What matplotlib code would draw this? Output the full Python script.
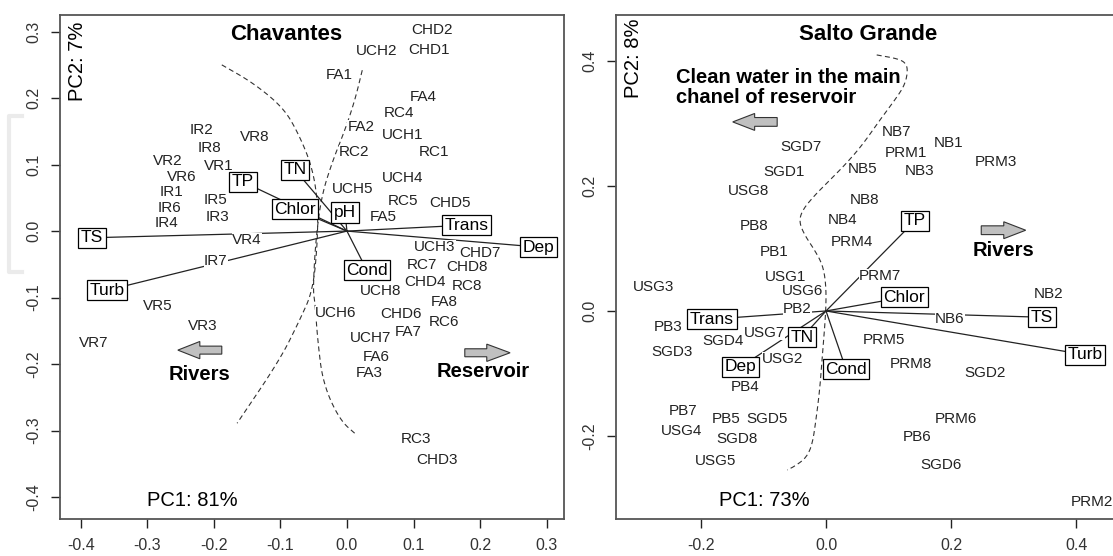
import matplotlib.pyplot as plt
from matplotlib.patches import FancyArrow
from matplotlib.lines import Line2D
import numpy as np

plt.rcParams['font.family'] = ['Liberation Sans', 'DejaVu Sans']
plt.rcParams['axes.unicode_minus'] = False

# %% Chavantes - site scores
chv_sites = ['IR1', 'IR2', 'IR3', 'IR4', 'IR5', 'IR6', 'IR7', 'IR8',
             'VR1', 'VR2', 'VR3', 'VR4', 'VR5', 'VR6', 'VR7', 'VR8',
             'CHD1', 'CHD2', 'CHD3', 'CHD4', 'CHD5', 'CHD6', 'CHD7', 'CHD8',
             'UCH1', 'UCH2', 'UCH3', 'UCH4', 'UCH5', 'UCH6', 'UCH7', 'UCH8',
             'FA1', 'FA2', 'FA3', 'FA4', 'FA5', 'FA6', 'FA7', 'FA8',
             'RC1', 'RC2', 'RC3', 'RC4', 'RC5', 'RC6', 'RC7', 'RC8']
chv_pc1 = [-0.263, -0.218, -0.195, -0.271, -0.197, -0.267, -0.197, -0.206,
           -0.192, -0.269, -0.216, -0.150, -0.284, -0.248, -0.380, -0.138,
           0.123, 0.128, 0.135, 0.117, 0.155, 0.081, 0.200, 0.180,
           0.084, 0.045, 0.132, 0.084, 0.009, -0.017, 0.036, 0.051,
           -0.011, 0.021, 0.033, 0.114, 0.054, 0.044, 0.092, 0.146,
           0.131, 0.011, 0.104, 0.078, 0.084, 0.146, 0.113, 0.180]
chv_pc2 = [0.059, 0.152, 0.021, 0.012, 0.047, 0.035, -0.045, 0.125,
           0.098, 0.105, -0.143, -0.014, -0.113, 0.081, -0.168, 0.141,
           0.272, 0.302, -0.344, -0.077, 0.042, -0.125, -0.033, -0.054,
           0.144, 0.271, -0.024, 0.080, 0.063, -0.123, -0.161, -0.090,
           0.235, 0.156, -0.214, 0.202, 0.021, -0.189, -0.152, -0.107,
           0.119, 0.119, -0.313, 0.177, 0.045, -0.137, -0.051, -0.083]

# Chavantes - variable loadings
chv_vars = ['TS', 'TP', 'TN', 'Chlor', 'pH', 'Trans', 'Dep', 'Cond', 'Turb']
chv_var_pc1 = [-0.383, -0.156, -0.078, -0.078, -0.003, 0.180, 0.287, 0.030, -0.360]
chv_var_pc2 = [-0.010, 0.074, 0.092, 0.033, 0.028, 0.009, -0.024, -0.059, -0.089]

# Chavantes - hand drawn group boundaries
chv_curve1_x = [-0.188, -0.141, -0.096, -0.074, -0.053, -0.044, -0.044, -0.051, -0.071, -0.101, -0.165]
chv_curve1_y = [0.250, 0.223, 0.186, 0.149, 0.099, 0.047, -0.014, -0.089, -0.134, -0.194, -0.289]
chv_curve2_x = [0.023, 0.012, -0.003, -0.021, -0.038, -0.047, -0.051, -0.048, -0.044, -0.036, -0.011, 0.015]
chv_curve2_y = [0.242, 0.197, 0.152, 0.107, 0.054, -0.014, -0.089, -0.108, -0.164, -0.229, -0.284, -0.307]

chv_xticks = [-0.4, -0.3, -0.2, -0.1, 0.0, 0.1, 0.2, 0.3]
chv_yticks = [-0.4, -0.3, -0.2, -0.1, 0.0, 0.1, 0.2, 0.3]

# %% Salto Grande - site scores
sg_sites = ['SGD1', 'SGD2', 'SGD3', 'SGD4', 'SGD5', 'SGD6', 'SGD7', 'SGD8',
            'USG1', 'USG2', 'USG3', 'USG4', 'USG5', 'USG6', 'USG7', 'USG8',
            'PB1', 'PB2', 'PB3', 'PB4', 'PB5', 'PB6', 'PB7', 'PB8',
            'NB1', 'NB2', 'NB3', 'NB4', 'NB5', 'NB6', 'NB7', 'NB8',
            'PRM1', 'PRM2', 'PRM3', 'PRM4', 'PRM5', 'PRM6', 'PRM7', 'PRM8']
sg_pc1 = [-0.067, 0.254, -0.246, -0.165, -0.094, 0.184, -0.040, -0.142,
          -0.065, -0.070, -0.276, -0.230, -0.177, -0.038, -0.099, -0.123,
          -0.083, -0.046, -0.252, -0.129, -0.160, 0.145, -0.228, -0.115,
          0.195, 0.355, 0.149, 0.026, 0.059, 0.198, 0.113, 0.061,
          0.128, 0.425, 0.272, 0.042, 0.093, 0.208, 0.086, 0.136]
sg_pc2 = [0.222, -0.099, -0.065, -0.048, -0.173, -0.246, 0.262, -0.204,
          0.054, -0.077, 0.038, -0.192, -0.240, 0.032, -0.035, 0.192,
          0.094, 0.003, -0.026, -0.121, -0.173, -0.201, -0.160, 0.136,
          0.268, 0.027, 0.224, 0.145, 0.227, -0.013, 0.286, 0.177,
          0.252, -0.305, 0.238, 0.110, -0.046, -0.173, 0.056, -0.085]

# Salto Grande - variable loadings
sg_vars = ['TP', 'Chlor', 'TS', 'Turb', 'Cond', 'TN', 'Dep', 'Trans']
sg_var_pc1 = [0.142, 0.125, 0.345, 0.414, 0.032, -0.038, -0.136, -0.182]
sg_var_pc2 = [0.144, 0.022, -0.010, -0.070, -0.093, -0.042, -0.089, -0.013]

# Salto Grande - hand drawn boundary
sg_curve_x = [0.081, 0.110, 0.126, 0.131, 0.126, 0.110, 0.086, 0.058, 0.030, 0.006,
              -0.018, -0.038, -0.043, -0.034, -0.018, -0.005, 0.000, 0.000, -0.005,
              -0.010, -0.016, -0.022, -0.032, -0.050, -0.062]
sg_curve_y = [0.409, 0.404, 0.398, 0.385, 0.361, 0.337, 0.305, 0.265, 0.233, 0.209,
              0.185, 0.161, 0.142, 0.121, 0.097, 0.073, 0.042, 0.002, -0.062,
              -0.126, -0.174, -0.214, -0.235, -0.248, -0.254]

sg_xticks = [-0.2, 0.0, 0.2, 0.4]
sg_yticks = [-0.2, 0.0, 0.2, 0.4]


def chaikin(xs, ys, n=3):
    # corner cutting to smooth the hand drawn polylines
    p = np.column_stack([xs, ys])
    for _ in range(n):
        q = 0.75 * p[:-1] + 0.25 * p[1:]
        r = 0.25 * p[:-1] + 0.75 * p[1:]
        mid = np.empty((2 * len(q), 2))
        mid[0::2] = q
        mid[1::2] = r
        p = np.vstack([p[:1], mid, p[-1:]])
    return p[:, 0], p[:, 1]


# %% plot
fig = plt.figure(figsize=(11.13, 5.56), dpi=100)
W, H = 1113, 556
ax1 = fig.add_axes([60 / W, 37 / H, 504 / W, 504 / H])
ax2 = fig.add_axes([616 / W, 37 / H, 498 / W, 504 / H])

# faint bracket in left margin
fig.add_artist(Line2D([22 / W, 9 / W, 9 / W, 22 / W],
                      [1 - 116 / H, 1 - 116 / H, 1 - 272 / H, 1 - 272 / H],
                      color='#ebebeb', lw=3, solid_joinstyle='round'))


def biplot(ax, sites, pc1, pc2, vars_, vpc1, vpc2):
    for x, y in zip(vpc1, vpc2):
        ax.plot([0, x], [0, y], color='#222222', lw=0.9, zorder=1)
    for s, x, y in zip(sites, pc1, pc2):
        ax.text(x, y, s, ha='center', va='center', fontsize=11, color='#222222',
                bbox=dict(fc='white', ec='none', pad=0), zorder=3)
    for v, x, y in zip(vars_, vpc1, vpc2):
        ax.text(x, y, v, ha='center', va='center', fontsize=12.5, color='black',
                bbox=dict(boxstyle='square,pad=0.15', fc='white', ec='black', lw=0.9),
                zorder=4)


def style_axes(ax, xt, yt):
    ax.set_xticks(xt, [f"{v:.1f}" for v in xt])
    ax.set_yticks(yt, [f"{v:.1f}" for v in yt], rotation=90, va='center')
    ax.tick_params(length=6.5, width=1, color='#222222', labelsize=11.5,
                   labelcolor='#333333', pad=7)
    for sp in ax.spines.values():
        sp.set_color('#555555')
        sp.set_linewidth(1.3)


def block_arrow(ax, x, y, dx, w, hw, hl):
    ax.add_patch(FancyArrow(x, y, dx, 0, width=w, head_width=hw, head_length=hl,
                            length_includes_head=True, fc='#c0c0c0', ec='#333333',
                            lw=0.8, zorder=2))


dash = (0, (4.5, 3))

# Chavantes
biplot(ax1, chv_sites, chv_pc1, chv_pc2, chv_vars, chv_var_pc1, chv_var_pc2)
ax1.plot(*chaikin(chv_curve1_x, chv_curve1_y), ls=dash, color='#333333', lw=0.8, zorder=0)
ax1.plot(*chaikin(chv_curve2_x, chv_curve2_y), ls=dash, color='#333333', lw=0.8, zorder=0)
block_arrow(ax1, -0.188, -0.179, -0.066, 0.012, 0.026, 0.033)
block_arrow(ax1, 0.177, -0.183, 0.068, 0.012, 0.026, 0.035)
ax1.text(-0.222, -0.215, 'Rivers', ha='center', va='center', fontsize=14.5, fontweight='bold')
ax1.text(0.204, -0.211, 'Reservoir', ha='center', va='center', fontsize=14.5, fontweight='bold')
ax1.text(-0.092, 0.295, 'Chavantes', ha='center', va='center', fontsize=16, fontweight='bold')
ax1.text(-0.233, -0.405, 'PC1: 81%', ha='center', va='center', fontsize=14.5)
ax1.text(-0.405, 0.256, 'PC2: 7%', ha='center', va='center', fontsize=14.5, rotation=90)
ax1.set_xlim(-0.431, 0.326)
ax1.set_ylim(-0.433, 0.325)
style_axes(ax1, chv_xticks, chv_yticks)

# Salto Grande
biplot(ax2, sg_sites, sg_pc1, sg_pc2, sg_vars, sg_var_pc1, sg_var_pc2)
ax2.plot(*chaikin(sg_curve_x, sg_curve_y), ls=dash, color='#333333', lw=0.8, zorder=0)
block_arrow(ax2, -0.078, 0.302, -0.071, 0.014, 0.027, 0.035)
block_arrow(ax2, 0.248, 0.129, 0.071, 0.014, 0.027, 0.035)
ax2.text(0.283, 0.096, 'Rivers', ha='center', va='center', fontsize=14.5, fontweight='bold')
ax2.text(-0.240, 0.357, 'Clean water in the main\nchanel of reservoir', ha='left',
         va='center', fontsize=14.5, fontweight='bold', linespacing=1.1)
ax2.text(0.067, 0.441, 'Salto Grande', ha='center', va='center', fontsize=16, fontweight='bold')
ax2.text(-0.099, -0.302, 'PC1: 73%', ha='center', va='center', fontsize=14.5)
ax2.text(-0.307, 0.403, 'PC2: 8%', ha='center', va='center', fontsize=14.5, rotation=90)
ax2.set_xlim(-0.3355, 0.4601)
ax2.set_ylim(-0.3323, 0.4728)
style_axes(ax2, sg_xticks, sg_yticks)

fig.savefig('out.png', dpi=100)
plt.close()
